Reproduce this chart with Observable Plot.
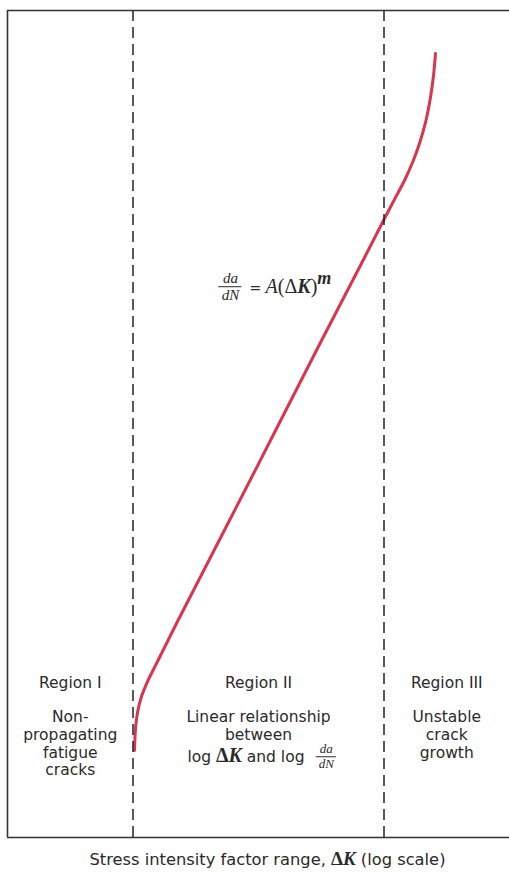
<!DOCTYPE html>
<html><head><meta charset="utf-8">
<script src="https://cdn.jsdelivr.net/npm/d3@7"></script>
<script src="https://cdn.jsdelivr.net/npm/@observablehq/plot@0.6"></script>
<style>
body{margin:0;background:#fff;}
#chart{width:509px;height:845px;}
#caption{font-family:"DejaVu Sans",sans-serif;font-size:16.3px;color:#2a2a2a;text-align:center;line-height:24px;padding-top:2px;width:509px;padding-left:26px;box-sizing:border-box;}
.dk{font-family:"Liberation Serif",serif;font-weight:bold;font-size:19px;}
</style></head><body>
<div id="chart"></div>
<div id="caption">Stress intensity factor range, <span class="dk">Δ<i>K</i></span> (log scale)</div>
<script>
// log ΔK (relative units, 0–100) and log da/dN (relative units, 0–100)
const logDeltaK     = [25.30, 25.50, 25.90, 26.69, 27.89, 29.48, 31.47, 33.86, 48.41, 62.35, 70.92, 75.10, 77.29, 79.08, 80.68, 82.07, 83.27, 84.26, 84.86, 85.26];
const logGrowthRate = [10.52, 13.18, 15.11, 17.05, 18.86, 20.80, 23.22, 26.12, 43.29, 59.85, 69.89, 74.85, 77.39, 79.44, 81.62, 83.92, 86.46, 89.48, 92.14, 94.80];

const regionBounds = [0, 25, 75, 100];
const regionNames  = ["Region I", "Region II", "Region III"];
const regionNotes  = ["Non-\npropagating\nfatigue\ncracks", "Linear relationship\nbetween", "Unstable\ncrack\ngrowth"];
const regionIILastLine = "log ΔK and log";
const formulaText = "= A(ΔK)m";
const formulaAt  = {x: 44.4, y: 66.6};
const fractionAt = {x: 63.5, y: 9.7};

const curveData = logDeltaK.map((x, i) => ({x, y: logGrowthRate[i]}));
const regions = regionNames.map((name, i) => ({name, note: regionNotes[i], mid: (regionBounds[i] + regionBounds[i + 1]) / 2}));

const serif = '"Liberation Serif", serif';
const ink = "#2a2a2a";
const plot = Plot.plot({
  width: 509, height: 845,
  marginLeft: 7, marginRight: 0, marginTop: 10, marginBottom: 8,
  x: {domain: [0, 100], axis: null},
  y: {domain: [0, 100], axis: null},
  style: {fontFamily: '"DejaVu Sans", sans-serif', fontSize: "15.5px", color: ink, background: "#fff", overflow: "visible"},
  marks: [
    Plot.line(curveData, {x: "x", y: "y", stroke: "#d7364e", strokeWidth: 3, curve: "catmull-rom"}),
    Plot.ruleX(regionBounds.slice(1, -1), {stroke: "#222", strokeWidth: 1.5, strokeDasharray: "11,6"}),
    Plot.ruleX([0], {stroke: "#333", strokeWidth: 1.6}),
    Plot.ruleY([0, 100], {stroke: "#333", strokeWidth: 1.6}),
    Plot.text(regions, {x: "mid", y: 18.7, text: "name", fontSize: 15.5, fill: ink, lineAnchor: "middle"}),
    Plot.text(regions, {x: "mid", y: 15.5, text: "note", fontSize: 15.5, fill: ink, lineAnchor: "top", lineHeight: 1.15}),
    Plot.text([regions[1]], {x: "mid", y: 9.7, text: () => regionIILastLine, fontSize: 15.5, fill: ink, textAnchor: "end", dx: 46, lineAnchor: "middle"}),
    // small fraction da/dN in region II text
    Plot.text([fractionAt], {x: "x", y: "y", text: () => "da", fontSize: 13, fontFamily: serif, fontStyle: "italic", fill: ink, dy: -8, lineAnchor: "middle"}),
    Plot.text([fractionAt], {x: "x", y: "y", text: () => "dN", fontSize: 13, fontFamily: serif, fontStyle: "italic", fill: ink, dy: 7, lineAnchor: "middle"}),
    Plot.ruleY([fractionAt], {y: "y", x1: d => d.x - 2.0, x2: d => d.x + 2.0, stroke: ink, strokeWidth: 1, dy: -0.5}),
    // formula
    Plot.text([formulaAt], {x: "x", y: "y", text: () => "da", fontSize: 15, fontFamily: serif, fontStyle: "italic", fill: ink, dy: -9, lineAnchor: "middle"}),
    Plot.text([formulaAt], {x: "x", y: "y", text: () => "dN", fontSize: 15, fontFamily: serif, fontStyle: "italic", fill: ink, dy: 8, lineAnchor: "middle"}),
    Plot.ruleY([formulaAt], {y: "y", x1: d => d.x - 2.3, x2: d => d.x + 2.3, stroke: ink, strokeWidth: 1}),
    Plot.text([formulaAt], {x: "x", y: "y", text: () => formulaText, fontSize: 20, fontFamily: serif, fill: ink, textAnchor: "start", dx: 19, lineAnchor: "middle"})
  ]
});
document.getElementById("chart").appendChild(plot);

// rich text styling
d3.select(plot).selectAll("text").each(function() {
  const t = this.textContent;
  if (t === regionIILastLine) {
    this.innerHTML = 'log <tspan font-family="Liberation Serif, serif" font-weight="bold" font-size="20">Δ<tspan font-style="italic">K</tspan></tspan> and log';
  } else if (t === formulaText) {
    this.innerHTML = '<tspan font-family="DejaVu Sans, sans-serif" font-size="14">= </tspan><tspan font-style="italic">A</tspan>(Δ<tspan font-weight="bold" font-style="italic">K</tspan>)<tspan font-style="italic" font-weight="bold" font-size="18" dy="-9">m</tspan>';
  }
});
</script>
</body></html>
